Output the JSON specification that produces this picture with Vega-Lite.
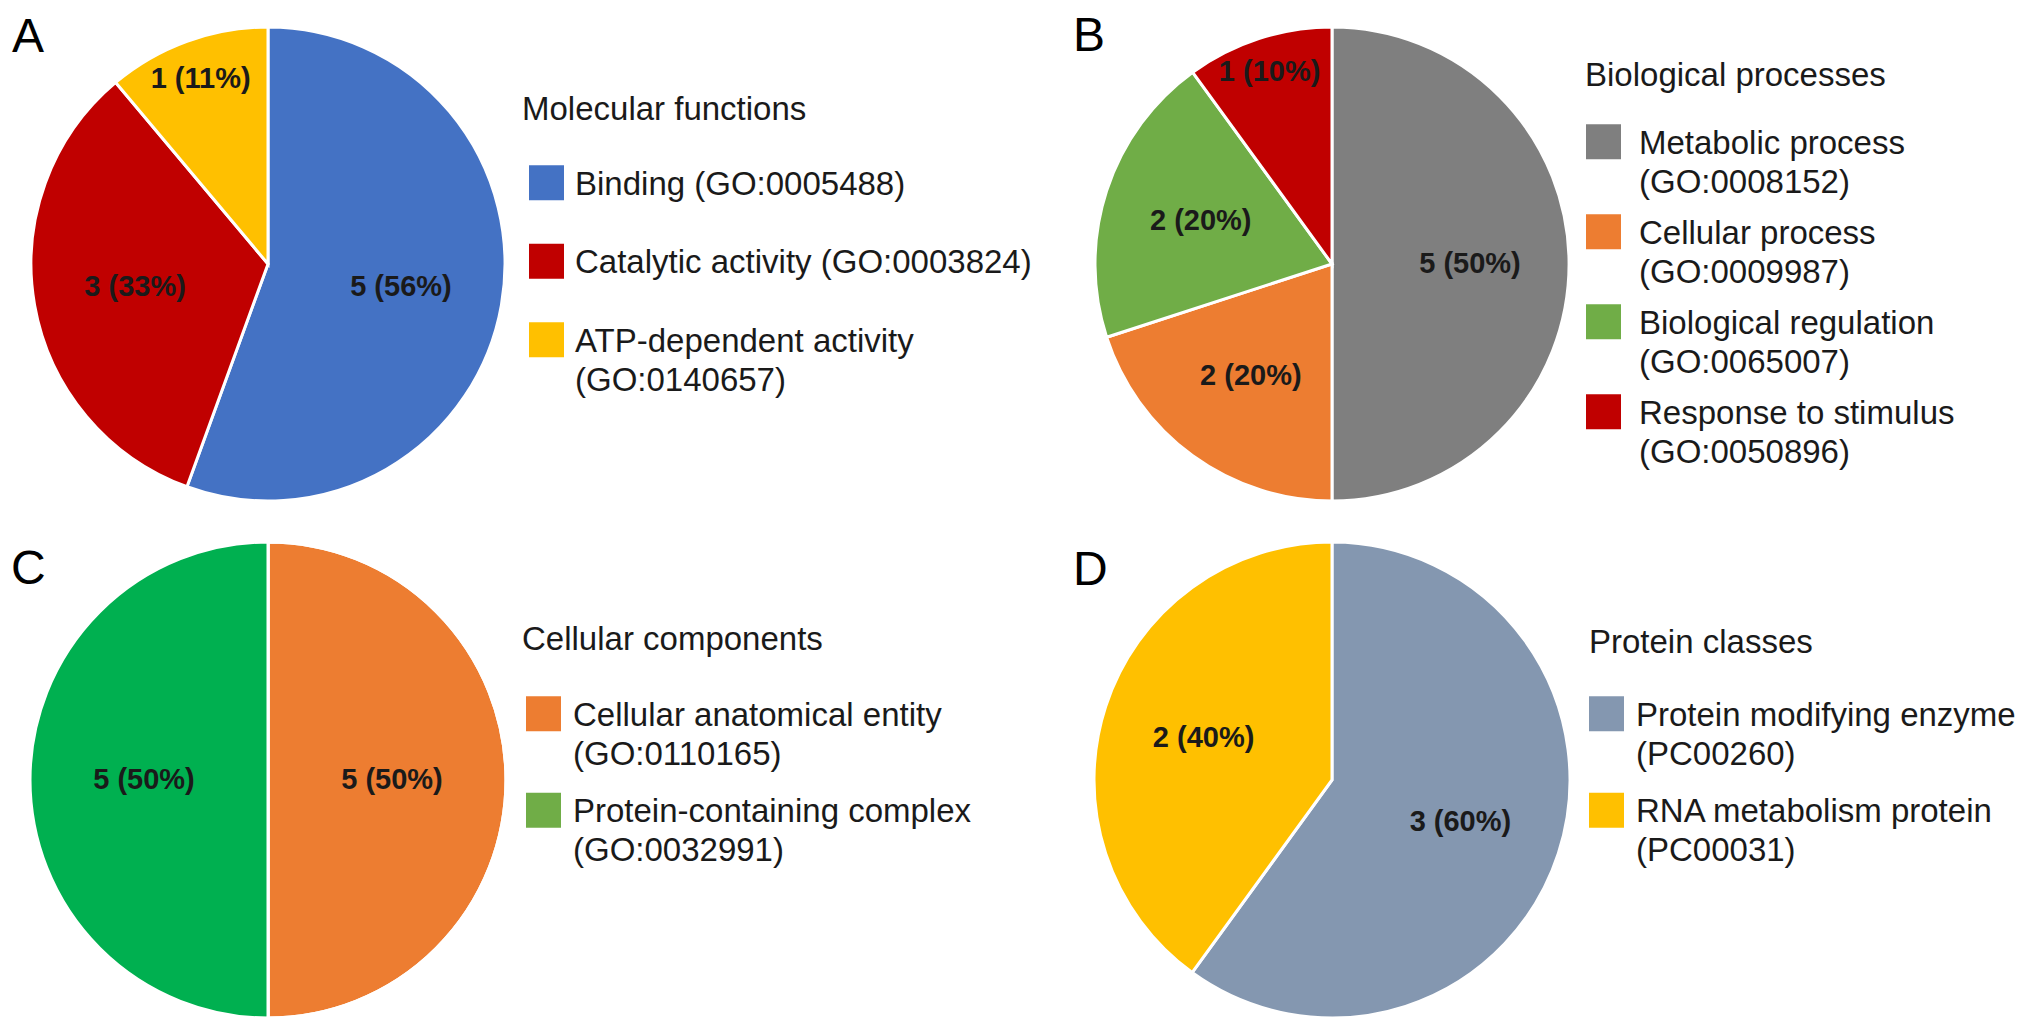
{
  "$schema": "https://vega.github.io/schema/vega-lite/v6.json",
  "padding": 0,
  "background": "white",
  "columns": 2,
  "spacing": {"row": 2, "column": 528},
  "bounds": "flush",
  "resolve": {"scale": {"color": "independent", "theta": "independent"}, "legend": {"color": "independent"}},
  "config": {
    "view": {"stroke": null},
    "font": "Liberation Sans",
    "style": {"guide-label": {"lineHeight": 39}},
    "title": {"fontSize": 48, "font": "Liberation Sans", "fontWeight": "normal", "color": "#000000", "anchor": "start", "frame": "group", "offset": 0, "baseline": "alphabetic"},
    "legend": {
      "orient": "none", "padding": 0,
      "titleFontSize": 33, "titleFont": "Liberation Sans", "titleFontWeight": "normal", "titleColor": "#1a1a1a", "titleLimit": 0,
      "labelFontSize": 33, "labelFont": "Liberation Sans", "labelColor": "#1a1a1a", "labelLimit": 0, "labelBaseline": "top",
      "symbolType": "M-1,-0.18H1V1.82H-1Z", "symbolSize": 1225, "symbolStrokeWidth": 0, "symbolOpacity": 1
    },
    "text": {"font": "Liberation Sans", "fontWeight": "bold", "fontSize": 29, "color": "#1a1a1a", "align": "center", "baseline": "middle"}
  },
  "concat": [
    {
      "width": 536, "height": 528,
      "title": {"text": "A", "dx": 12, "dy": 66},
      "data": {"values": [
        {"cat": "Binding (GO:0005488)", "n": 5, "idx": 1, "lbl": "5 (56%)"},
        {"cat": "Catalytic activity (GO:0003824)", "n": 3, "idx": 2, "lbl": "3 (33%)"},
        {"cat": "ATP-dependent activity|(GO:0140657)", "n": 1, "idx": 3, "lbl": "1 (11%)"}
      ]},
      "encoding": {
        "theta": {"field": "n", "type": "quantitative", "stack": true},
        "order": {"field": "idx", "type": "quantitative"}
      },
      "layer": [
        {
          "mark": {"type": "arc", "radius": 237, "stroke": "white", "strokeWidth": 3},
          "encoding": {
            "color": {
              "field": "cat", "type": "nominal",
              "scale": {"domain": ["Binding (GO:0005488)", "Catalytic activity (GO:0003824)", "ATP-dependent activity|(GO:0140657)"], "range": ["#4472C4", "#C00000", "#FFC000"]},
              "legend": {
                "title": "Molecular functions", "legendX": 522, "legendY": 94, "titlePadding": 24, "rowPadding": 27.5,
                "symbolOffset": 7, "labelOffset": 11,
                "labelExpr": "split(datum.label, '|')"
              }
            }
          }
        },
        {
          "mark": {"type": "text", "radius": 135},
          "encoding": {"text": {"condition": {"test": "datum.n > 1", "field": "lbl", "type": "nominal"}, "value": ""}}
        },
        {
          "mark": {"type": "text", "radius": 197},
          "encoding": {"text": {"condition": {"test": "datum.n == 1", "field": "lbl", "type": "nominal"}, "value": ""}}
        }
      ]
    },
    {
      "width": 536, "height": 528,
      "title": {"text": "B", "dx": 9, "dy": 65},
      "data": {"values": [
        {"cat": "Metabolic process|(GO:0008152)", "n": 5, "idx": 1, "lbl": "5 (50%)"},
        {"cat": "Cellular process|(GO:0009987)", "n": 2, "idx": 2, "lbl": "2 (20%)"},
        {"cat": "Biological regulation|(GO:0065007)", "n": 2, "idx": 3, "lbl": "2 (20%)"},
        {"cat": "Response to stimulus|(GO:0050896)", "n": 1, "idx": 4, "lbl": "1 (10%)"}
      ]},
      "encoding": {
        "theta": {"field": "n", "type": "quantitative", "stack": true},
        "order": {"field": "idx", "type": "quantitative"}
      },
      "layer": [
        {
          "mark": {"type": "arc", "radius": 237, "stroke": "white", "strokeWidth": 3},
          "encoding": {
            "color": {
              "field": "cat", "type": "nominal",
              "scale": {"domain": ["Metabolic process|(GO:0008152)", "Cellular process|(GO:0009987)", "Biological regulation|(GO:0065007)", "Response to stimulus|(GO:0050896)"], "range": ["#7F7F7F", "#ED7D31", "#70AD47", "#C00000"]},
              "legend": {
                "title": "Biological processes", "legendX": 521, "legendY": 60, "titlePadding": 17, "rowPadding": -4.5,
                "symbolOffset": 1, "labelOffset": 18,
                "labelExpr": "split(datum.label, '|')"
              }
            }
          }
        },
        {
          "mark": {"type": "text", "radius": 138},
          "encoding": {"text": {"condition": {"test": "datum.n > 1", "field": "lbl", "type": "nominal"}, "value": ""}}
        },
        {
          "mark": {"type": "text", "radius": 202},
          "encoding": {"text": {"condition": {"test": "datum.n == 1", "field": "lbl", "type": "nominal"}, "value": ""}}
        }
      ]
    },
    {
      "width": 536, "height": 500,
      "title": {"text": "C", "dx": 11, "dy": 68},
      "data": {"values": [
        {"cat": "Cellular anatomical entity|(GO:0110165)", "n": 5, "idx": 1, "lbl": "5 (50%)"},
        {"cat": "Protein-containing complex|(GO:0032991)", "n": 5, "idx": 2, "lbl": "5 (50%)"}
      ]},
      "encoding": {
        "theta": {"field": "n", "type": "quantitative", "stack": true},
        "order": {"field": "idx", "type": "quantitative"}
      },
      "layer": [
        {
          "mark": {"type": "arc", "radius": 238, "stroke": "white", "strokeWidth": 3},
          "encoding": {
            "color": {
              "field": "cat", "type": "nominal",
              "scale": {"domain": ["Cellular anatomical entity|(GO:0110165)", "Protein-containing complex|(GO:0032991)"], "range": ["#ED7D31", "#70AD47"]},
              "legend": {
                "title": "Cellular components", "legendX": 522, "legendY": 94, "titlePadding": 25, "rowPadding": 6.5,
                "symbolOffset": 4, "labelOffset": 12,
                "labelExpr": "split(datum.label, '|')"
              }
            }
          }
        },
        {
          "mark": {"type": "arc", "radius": 238, "stroke": "white", "strokeWidth": 3},
          "encoding": {
            "color": {"condition": {"test": "datum.idx == 2", "value": "#00B050"}, "value": "transparent"}
          }
        },
        {
          "mark": {"type": "text", "radius": 124},
          "encoding": {"text": {"field": "lbl", "type": "nominal"}}
        }
      ]
    },
    {
      "width": 536, "height": 500,
      "title": {"text": "D", "dx": 9, "dy": 69},
      "data": {"values": [
        {"cat": "Protein modifying enzyme|(PC00260)", "n": 3, "idx": 1, "lbl": "3 (60%)"},
        {"cat": "RNA metabolism protein|(PC00031)", "n": 2, "idx": 2, "lbl": "2 (40%)"}
      ]},
      "encoding": {
        "theta": {"field": "n", "type": "quantitative", "stack": true},
        "order": {"field": "idx", "type": "quantitative"}
      },
      "layer": [
        {
          "mark": {"type": "arc", "radius": 238, "stroke": "white", "strokeWidth": 3},
          "encoding": {
            "color": {
              "field": "cat", "type": "nominal",
              "scale": {"domain": ["Protein modifying enzyme|(PC00260)", "RNA metabolism protein|(PC00031)"], "range": ["#8497B0", "#FFC000"]},
              "legend": {
                "title": "Protein classes", "legendX": 525, "legendY": 97, "titlePadding": 22, "rowPadding": 6.5,
                "symbolOffset": 0, "labelOffset": 12,
                "labelExpr": "split(datum.label, '|')"
              }
            }
          }
        },
        {
          "mark": {"type": "text", "radius": 135},
          "encoding": {"text": {"field": "lbl", "type": "nominal"}}
        }
      ]
    }
  ]
}
